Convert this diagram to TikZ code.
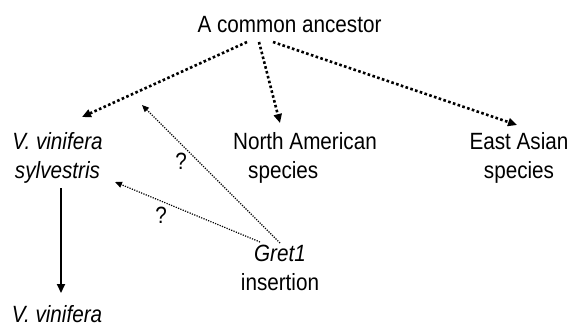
\documentclass[tikz,border=0pt]{standalone}
\usepackage{fontspec}
\setmainfont{Liberation Sans}[FakeStretch=0.88]
\usetikzlibrary{arrows.meta}
\begin{document}
\begin{tikzpicture}[x=1pt,y=-1pt,
  lbl/.style={inner sep=0pt, font=\fontsize{23.5pt}{29pt}\selectfont},
  ital/.style={inner sep=0pt, font=\fontsize{23.5pt}{29pt}\selectfont\itshape},
  bigdot/.style={line width=2.6pt, dash pattern=on 2.6pt off 2.4pt, -{Triangle[length=9pt,width=8pt]}},
  thindot/.style={line width=1.2pt, dash pattern=on 1.2pt off 1.3pt, -{Triangle[length=7pt,width=6pt]}},
  solidarr/.style={line width=2pt, -{Triangle[length=9pt,width=8pt]}}]
\useasboundingbox (0,0) rectangle (572,327);
\fill[white] (0,0) rectangle (572,327);
\node[lbl, anchor=base] (anc) at (289.5,32) {A common ancestor};
\node[ital, align=center] (sylv) at (57.5,158) {V. vinifera\\sylvestris};
\node[lbl, align=left] (na) at (305,158) {North American\\\hspace*{15pt}species};
\node[lbl, align=center] (ea) at (519,158) {East Asian\\species};
\node[lbl, align=center] (gret) at (280,268) {\textit{Gret1}\\insertion};
\node[ital, anchor=base] (vv) at (57,322) {V. vinifera};
\node[lbl] (q1) at (181,161) {?};
\node[lbl] (q2) at (161,215) {?};
\coordinate (branch) at (142,105);
\draw[bigdot] ([shift={(-42.5,10)}]anc.base) -- ([shift={(24.5,-41)}]sylv.center);
\draw[bigdot] ([shift={(-30.5,10)}]anc.base) -- ([shift={(-25,-35)}]na.center);
\draw[bigdot] ([shift={(-16.5,10)}]anc.base) -- ([shift={(-2,-33)}]ea.center);
\draw[thindot] ([shift={(0,-25)}]gret.center) -- (branch);
\draw[thindot] ([shift={(-20,-26)}]gret.center) -- ([shift={(57.5,24)}]sylv.center);
\draw[solidarr] ([shift={(3.5,30)}]sylv.center) -- ([shift={(4,-29)}]vv.base);
\end{tikzpicture}
\end{document}
